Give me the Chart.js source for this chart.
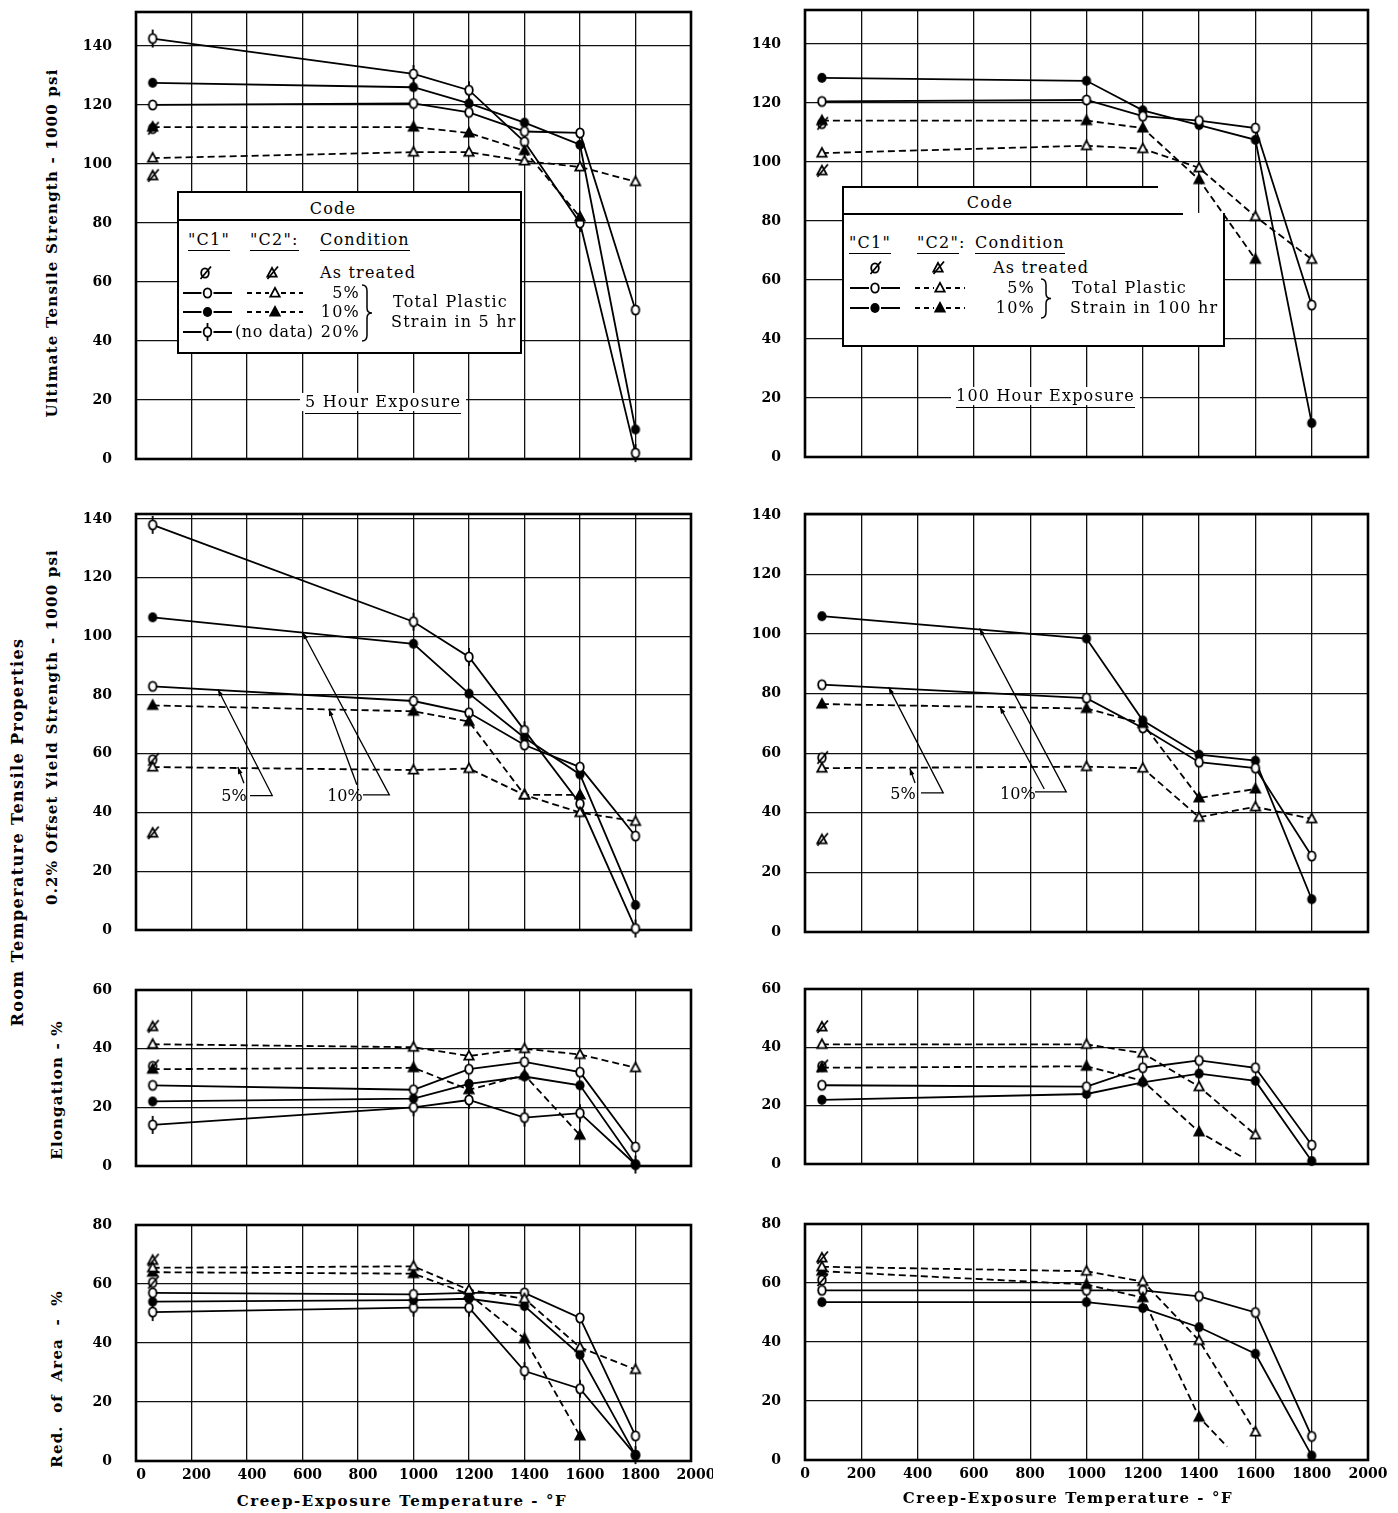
<!DOCTYPE html>
<html>
<head>
<meta charset="utf-8">
<script src="https://cdn.jsdelivr.net/npm/chart.js@4.4.1/dist/chart.umd.min.js"></script>
<style>
  body { margin: 0; background: #fff; }
  #page { position: relative; width: 1398px; height: 1513px; overflow: hidden; background: #fff; }
  canvas.panel { position: absolute; }
  .t { position: absolute; font-family: 'DejaVu Serif', serif; color: #000; white-space: nowrap; }
  .rot { transform: translate(-50%, -50%) rotate(-90deg); font-weight: bold; font-size: 15px; letter-spacing: 1.2px; }
  .xt { transform: translate(-50%, -50%); font-weight: bold; font-size: 15px; letter-spacing: 1.6px; }
  .code { position: absolute; background: #fff; border: 2px solid #000; box-sizing: border-box; }
  .lt { font-size: 16px; letter-spacing: 1.2px; line-height: 18px; }
  .ul { border-bottom: 1.5px solid #000; padding-bottom: 1px; }
  .expo { font-size: 16px; letter-spacing: 1.2px; line-height: 18px; background: #fff; padding: 0 5px; }
  .expo span { border-bottom: 1.6px solid #000; padding-bottom: 2px; }
</style>
</head>
<body>
<div id="page"></div>
<script>
// temperatures (deg F) of the test points; first one is room temperature
const tempF = [60, 1000, 1200, 1400, 1600, 1800];

// Ultimate tensile strength, 5 hr exposure (1000 psi)
const uts5_c1_5  = [120, 120.5, 117.5, 111, 110.5, 50.5];
const uts5_c1_10 = [127.5, 126, 120.5, 114, 106.5, 10];
const uts5_c1_20 = [142.5, 130.5, 125, 107.5, 80, 2];
const uts5_c2_5  = [102, 104, 104, 101, 99, 94];
const uts5_c2_10 = [112.5, 112.5, 110.5, 104.5, 82, null];
const uts5_treated = [112, 96];          // C1, C2 as treated

// Ultimate tensile strength, 100 hr exposure
const uts100_c1_5  = [120.5, 121, 115.5, 114, 111.5, 51.5];
const uts100_c1_10 = [128.5, 127.5, 117.5, 112.5, 107.5, 11.5];
const uts100_c2_5  = [103, 105.5, 104.5, 98, 81.5, 67];
const uts100_c2_10 = [114, 114, 111.5, 94, 67, null];
const uts100_treated = [113, 97];

// 0.2% offset yield strength, 5 hr exposure
const ys5_c1_5  = [83, 78, 74, 63, 55.5, 32];
const ys5_c1_10 = [106.5, 97.5, 80.5, 65.5, 53, 8.5];
const ys5_c1_20 = [138, 105, 93, 68, 43, 0.5];
const ys5_c2_5  = [55.5, 54.5, 55, 46, 40, 37];
const ys5_c2_10 = [76.5, 74.5, 71, 46, 46, null];
const ys5_treated = [58, 33];

// 0.2% offset yield strength, 100 hr exposure
const ys100_c1_5  = [83, 78.5, 68.5, 57, 55, 25.5];
const ys100_c1_10 = [106, 98.5, 71, 59.5, 57.5, 11];
const ys100_c2_5  = [55, 55.5, 55, 38.5, 42, 38];
const ys100_c2_10 = [76.5, 75, 70, 45, 48, null];
const ys100_treated = [58.5, 31];

// Elongation %, 5 hr
const el5_c1_5  = [27.5, 26, 33, 35.5, 32, 6.5];
const el5_c1_10 = [22, 23, 28, 30.5, 27.5, 0.5];
const el5_c1_20 = [14, 20, 22.5, 16.5, 18, 0.5];
const el5_c2_5  = [41.5, 40.5, 37.5, 40, 38, 33.5];
const el5_c2_10 = [33, 33.5, 26, 31, 10.5, null];
const el5_treated = [34, 47.5];

// Elongation %, 100 hr (10% C2 curve runs out to ~1560 F without a point)
const el100_c1_5  = [27, 26.5, 33, 35.5, 33, 6.5];
const el100_c1_10 = [22, 24, 28, 31, 28.5, 1];
const el100_c2_5  = [41, 41, 38, 26.5, 10, null];
const el100_c2_10_t = [60, 1000, 1200, 1400, 1560];
const el100_c2_10 = [33, 33.5, 28.5, 11, 2];
const el100_treated = [33.5, 47];

// Reduction of area %, 5 hr
const ra5_c1_5  = [57, 56.5, 57, 57, 48.5, 8.5];
const ra5_c1_10 = [54, 54.5, 55, 52.5, 36, 2];
const ra5_c1_20 = [50.5, 52, 52, 30.5, 24.5, 2];
const ra5_c2_5  = [65.5, 66, 58, 55, 38.5, 31];
const ra5_c2_10 = [64, 63.5, 56.5, 41.5, 8.5, null];
const ra5_treated = [60.5, 68];

// Reduction of area %, 100 hr
const ra100_c1_5  = [57.5, 57.5, 57.5, 55.5, 50, 8];
const ra100_c1_10 = [53.5, 53.5, 51.5, 45, 36, 1.5];
const ra100_c2_5  = [65.5, 64, 60.5, 40.5, 9.5, null];
const ra100_c2_10_t = [60, 1000, 1200, 1400, 1500];
const ra100_c2_10 = [64, 59.5, 55, 14.5, 4.5];
const ra100_treated = [61, 68.5];

const xTicks = [0, 200, 400, 600, 800, 1000, 1200, 1400, 1600, 1800, 2000];

const FONT = "'DejaVu Serif', serif";
const YW = 70, PT = 12, PR = 22;
const page = document.getElementById('page');

//
// marker glyphs
//
function drawMarker(g, type, cx, cy) {
  g.save();
  g.lineWidth = 1.8;
  g.strokeStyle = '#000';
  const circ = (rx, ry) => { g.beginPath(); g.ellipse(cx, cy, rx, ry, 0, 0, Math.PI * 2); };
  const tri = () => {
    g.beginPath();
    g.moveTo(cx, cy - 5.2);
    g.lineTo(cx + 4.7, cy + 3.6);
    g.lineTo(cx - 4.7, cy + 3.6);
    g.closePath();
  };
  if (type === 'phi') {
    g.beginPath(); g.moveTo(cx, cy - 9); g.lineTo(cx, cy + 9); g.stroke();
  }
  if (type === 'oc' || type === 'phi' || type === 'ocs') {
    circ(3.8, 4.7); g.fillStyle = '#fff'; g.fill(); g.stroke();
  }
  if (type === 'fc') {
    circ(4.6, 5); g.fillStyle = '#000'; g.fill();
  }
  if (type === 'ot' || type === 'ots') {
    tri(); g.fillStyle = '#fff'; g.fill(); g.stroke();
  }
  if (type === 'ft') {
    tri(); g.fillStyle = '#000'; g.fill(); g.stroke();
  }
  if (type === 'ocs' || type === 'ots') {
    g.beginPath(); g.moveTo(cx - 4.5, cy + 6); g.lineTo(cx + 6, cy - 6.5); g.stroke();
  }
  g.restore();
}

function markerCanvas(type) {
  const c = document.createElement('canvas');
  c.width = 20; c.height = 22;
  drawMarker(c.getContext('2d'), type, 10, 11);
  return c;
}

const markers = {};
['oc', 'fc', 'phi', 'ot', 'ft', 'ocs', 'ots'].forEach(k => { markers[k] = markerCanvas(k); });

//
// plugins: frame round the plot area, leader notes
//
const framePlugin = {
  id: 'frame',
  beforeDatasetsDraw(chart) {
    const a = chart.chartArea, g = chart.ctx;
    g.save();
    g.lineWidth = 2.6;
    g.strokeStyle = '#000';
    g.strokeRect(a.left, a.top, a.right - a.left, a.bottom - a.top);
    g.restore();
  }
};

function arrowHead(g, p, q) {
  const ang = Math.atan2(q[1] - p[1], q[0] - p[0]);
  g.beginPath();
  g.moveTo(q[0], q[1]);
  g.lineTo(q[0] - 7 * Math.cos(ang) + 2.4 * Math.sin(ang), q[1] - 7 * Math.sin(ang) - 2.4 * Math.cos(ang));
  g.lineTo(q[0] - 7 * Math.cos(ang) - 2.4 * Math.sin(ang), q[1] - 7 * Math.sin(ang) + 2.4 * Math.cos(ang));
  g.closePath();
  g.fill();
}

function notesPlugin(notes) {
  return {
    id: 'notes',
    afterDatasetsDraw(chart) {
      if (!notes) return;
      const g = chart.ctx, xs = chart.scales.x, ys = chart.scales.y;
      const P = d => [xs.getPixelForValue(d[0]), ys.getPixelForValue(d[1])];
      notes.forEach(n => {
        g.save();
        g.strokeStyle = '#000';
        g.fillStyle = '#000';
        g.lineWidth = 1.3;
        [n.path, n.short].forEach(line => {
          const pts = line.map(P);
          g.beginPath();
          g.moveTo(pts[0][0], pts[0][1]);
          pts.slice(1).forEach(q => g.lineTo(q[0], q[1]));
          g.stroke();
          arrowHead(g, pts[pts.length - 2], pts[pts.length - 1]);
        });
        const l = P(n.at);
        g.font = '16px ' + FONT;
        g.textAlign = 'center';
        g.textBaseline = 'middle';
        g.fillText(n.label, l[0], l[1]);
        g.restore();
      });
    }
  };
}

//
// one chart per panel
//
function makeChart(p) {
  const plotW = p.right - p.left, plotH = p.bottom - p.top;
  const xh = p.xLabels ? 30 : 12;
  const cv = document.createElement('canvas');
  cv.className = 'panel';
  cv.width = YW + plotW + PR;
  cv.height = PT + plotH + xh;
  cv.style.left = (p.left - YW) + 'px';
  cv.style.top = (p.top - PT) + 'px';
  page.appendChild(cv);

  const datasets = p.series.map(s => {
    const t = s.t || tempF;
    const pts = [];
    s.v.forEach((v, i) => { if (v !== null) pts.push({ x: t[i], y: v }); });
    return {
      data: pts,
      showLine: s.line !== false,
      borderColor: '#000',
      borderWidth: 1.8,
      borderDash: s.dash ? [7, 4] : [],
      pointStyle: markers[s.m],
      pointRadius: ctx => (s.plain && s.plain.includes(ctx.dataIndex)) ? 0 : 5,
      tension: 0,
      fill: false,
      clip: false
    };
  });

  const tickFont = { family: FONT, weight: 'bold', size: 14 };
  new Chart(cv, {
    type: 'line',
    data: { datasets },
    options: {
      responsive: false,
      maintainAspectRatio: false,
      animation: false,
      events: [],
      layout: { padding: { top: PT, right: PR, left: 0, bottom: 0 }, autoPadding: false },
      plugins: { legend: { display: false }, tooltip: { enabled: false } },
      scales: {
        x: {
          type: 'linear', min: 0, max: 2000,
          afterBuildTicks: sc => { sc.ticks = xTicks.map(v => ({ value: v })); },
          ticks: {
            display: !!p.xLabels, autoSkip: false, maxRotation: 0, padding: 6,
            labelOffset: p.labelShift || 0,
            color: '#000', font: tickFont, callback: v => String(v)
          },
          grid: { color: '#111', lineWidth: 1.3, drawTicks: false },
          border: { display: false },
          afterFit: sc => { sc.height = xh; sc.paddingLeft = 0; sc.paddingRight = 0; }
        },
        y: {
          type: 'linear', min: 0, max: p.yMax,
          afterBuildTicks: sc => {
            const out = [];
            for (let v = 0; v <= p.yMax; v += 20) out.push({ value: v });
            sc.ticks = out;
          },
          ticks: { padding: 24, color: '#000', font: tickFont, callback: v => String(v) },
          grid: { color: '#111', lineWidth: 1.3, drawTicks: false },
          border: { display: false },
          afterFit: sc => { sc.width = YW; sc.paddingTop = 0; sc.paddingBottom = 0; }
        }
      }
    },
    plugins: [framePlugin, notesPlugin(p.notes)]
  });
}

function treated(vals) {
  return [
    { t: [tempF[0]], v: [vals[0]], m: 'ocs', line: false },
    { t: [tempF[0]], v: [vals[1]], m: 'ots', line: false }
  ];
}

const L = { left: 136, right: 691, labelShift: 5 }, R = { left: 805, right: 1368 };

const panels = [
  Object.assign({ top: 12, bottom: 459, yMax: 151.5, series: [
    { v: uts5_c2_5, m: 'ot', dash: true }, { v: uts5_c2_10, m: 'ft', dash: true },
    { v: uts5_c1_5, m: 'oc' }, { v: uts5_c1_10, m: 'fc' }, { v: uts5_c1_20, m: 'phi' }
  ].concat(treated(uts5_treated)) }, L),
  Object.assign({ top: 10, bottom: 457, yMax: 151.5, series: [
    { v: uts100_c2_5, m: 'ot', dash: true }, { v: uts100_c2_10, m: 'ft', dash: true },
    { v: uts100_c1_5, m: 'oc' }, { v: uts100_c1_10, m: 'fc' }
  ].concat(treated(uts100_treated)) }, R),
  Object.assign({ top: 514, bottom: 930, yMax: 141.7, series: [
    { v: ys5_c2_5, m: 'ot', dash: true }, { v: ys5_c2_10, m: 'ft', dash: true },
    { v: ys5_c1_5, m: 'oc' }, { v: ys5_c1_10, m: 'fc' }, { v: ys5_c1_20, m: 'phi' }
  ].concat(treated(ys5_treated)),
    notes: [
      { label: '5%', at: [353, 45.5], path: [[411, 45.8], [491, 45.8], [295, 82]], short: [[389, 50], [367, 55.5]] },
      { label: '10%', at: [753, 45.5], path: [[818, 46], [913, 46], [600, 101.4]], short: [[796, 49.5], [695, 75.3]] }
    ] }, L),
  Object.assign({ top: 514, bottom: 932, yMax: 140.3, series: [
    { v: ys100_c2_5, m: 'ot', dash: true }, { v: ys100_c2_10, m: 'ft', dash: true },
    { v: ys100_c1_5, m: 'oc' }, { v: ys100_c1_10, m: 'fc' }
  ].concat(treated(ys100_treated)),
    notes: [
      { label: '5%', at: [348, 46], path: [[412, 46.7], [491, 46.7], [297, 82.2]], short: [[391, 50], [372, 55]] },
      { label: '10%', at: [756, 46], path: [[817, 47], [928, 47], [620, 101.9]], short: [[850, 48], [692, 75.6]] }
    ] }, R),
  Object.assign({ top: 990, bottom: 1166, yMax: 60, series: [
    { v: el5_c2_5, m: 'ot', dash: true }, { v: el5_c2_10, m: 'ft', dash: true },
    { v: el5_c1_5, m: 'oc' }, { v: el5_c1_10, m: 'fc' }, { v: el5_c1_20, m: 'phi' }
  ].concat(treated(el5_treated)) }, L),
  Object.assign({ top: 989, bottom: 1164, yMax: 60, series: [
    { v: el100_c2_5, m: 'ot', dash: true }, { t: el100_c2_10_t, v: el100_c2_10, m: 'ft', dash: true, plain: [4] },
    { v: el100_c1_5, m: 'oc' }, { v: el100_c1_10, m: 'fc' }
  ].concat(treated(el100_treated)) }, R),
  Object.assign({ top: 1225, bottom: 1461, yMax: 80, xLabels: true, series: [
    { v: ra5_c2_5, m: 'ot', dash: true }, { v: ra5_c2_10, m: 'ft', dash: true },
    { v: ra5_c1_5, m: 'oc' }, { v: ra5_c1_10, m: 'fc' }, { v: ra5_c1_20, m: 'phi' }
  ].concat(treated(ra5_treated)) }, L),
  Object.assign({ top: 1224, bottom: 1460, yMax: 80, xLabels: true, series: [
    { v: ra100_c2_5, m: 'ot', dash: true }, { t: ra100_c2_10_t, v: ra100_c2_10, m: 'ft', dash: true, plain: [4] },
    { v: ra100_c1_5, m: 'oc' }, { v: ra100_c1_10, m: 'fc' }
  ].concat(treated(ra100_treated)) }, R)
];

panels.forEach(makeChart);

//
// text, legends
//
function abs(parent, cls, x, y, html) {
  const d = document.createElement('div');
  d.className = 't ' + cls;
  d.style.left = x + 'px';
  d.style.top = y + 'px';
  d.innerHTML = html;
  parent.appendChild(d);
  return d;
}

const big = abs(page, 'rot', 17, 832, 'Room Temperature Tensile Properties');
big.style.fontSize = '16px';
big.style.letterSpacing = '1.4px';
abs(page, 'rot', 52, 243, 'Ultimate Tensile Strength - 1000 psi');
abs(page, 'rot', 52, 727, '0.2% Offset Yield Strength - 1000 psi');
abs(page, 'rot', 57, 1090, 'Elongation - %');
abs(page, 'rot', 57, 1379, 'Red. of Area - %').style.wordSpacing = '6px';
abs(page, 'xt', 402, 1501, 'Creep-Exposure Temperature - °F');
abs(page, 'xt', 1068, 1498, 'Creep-Exposure Temperature - °F');

abs(page, 'expo', 300, 393, '<span>5 Hour Exposure</span>');
abs(page, 'expo', 951, 387, '<span>100 Hour Exposure</span>');

function box(x, y, w, h) {
  const d = document.createElement('div');
  d.className = 'code';
  Object.assign(d.style, { left: x + 'px', top: y + 'px', width: w + 'px', height: h + 'px' });
  page.appendChild(d);
  return d;
}
function txt(b, x, yc, s, align, ul) {
  const d = abs(b, 'lt', x - 2, yc - 11, ul ? '<span class="ul">' + s + '</span>' : s);
  if (align === 'c') d.style.transform = 'translateX(-50%)';
  if (align === 'r') d.style.transform = 'translateX(-100%)';
  return d;
}
function hline(b, x1, x2, y) {
  const d = document.createElement('div');
  Object.assign(d.style, { position: 'absolute', left: (x1 - 2) + 'px', top: (y - 3) + 'px', width: (x2 - x1) + 'px', height: '0', borderTop: '2px solid #000' });
  b.appendChild(d);
}
function mark(b, xc, yc, type) {
  const c = markerCanvas(type);
  Object.assign(c.style, { position: 'absolute', left: (xc - 12) + 'px', top: (yc - 13) + 'px' });
  b.appendChild(c);
}
function sample(b, x1, x2, yc, type, dashed) {
  const c = document.createElement('canvas');
  const w = x2 - x1;
  c.width = w; c.height = 22;
  const g = c.getContext('2d');
  g.strokeStyle = '#000';
  g.lineWidth = 1.9;
  if (dashed) g.setLineDash([5, 4]);
  g.beginPath();
  g.moveTo(0, 11); g.lineTo(w / 2 - 6, 11);
  g.moveTo(w / 2 + 6, 11); g.lineTo(w, 11);
  g.stroke();
  g.setLineDash([]);
  drawMarker(g, type, w / 2, 11);
  Object.assign(c.style, { position: 'absolute', left: (x1 - 2) + 'px', top: (yc - 13) + 'px' });
  b.appendChild(c);
}
function brace(b, xc, y1, y2) {
  const c = document.createElement('canvas');
  const h = y2 - y1;
  c.width = 16; c.height = h + 4;
  const g = c.getContext('2d');
  g.strokeStyle = '#000';
  g.lineWidth = 1.5;
  const m = 2 + h / 2;
  g.beginPath();
  g.moveTo(2, 2);
  g.quadraticCurveTo(7, 2, 7, 8);
  g.lineTo(7, m - 5);
  g.quadraticCurveTo(7, m, 12, m);
  g.quadraticCurveTo(7, m, 7, m + 5);
  g.lineTo(7, h - 4);
  g.quadraticCurveTo(7, h + 2, 2, h + 2);
  g.stroke();
  Object.assign(c.style, { position: 'absolute', left: (xc - 9) + 'px', top: (y1 - 4) + 'px' });
  b.appendChild(c);
}

// legend, 5 hr panel
const L1 = box(177, 191, 345, 163);
txt(L1, 156, 18, 'Code', 'c');
hline(L1, 0, 345, 29);
txt(L1, 11, 49, '"C1"', 'l', true);
txt(L1, 73, 49, '"C2":', 'l', true);
txt(L1, 143, 49, 'Condition', 'l', true);
mark(L1, 28, 82, 'ocs');
mark(L1, 95, 82, 'ots');
txt(L1, 143, 82, 'As treated');
sample(L1, 6, 55, 102, 'oc', false);
sample(L1, 70, 126, 102, 'ot', true);
txt(L1, 183, 102, '5%', 'r');
sample(L1, 6, 55, 121, 'fc', false);
sample(L1, 70, 126, 121, 'ft', true);
txt(L1, 183, 121, '10%', 'r');
sample(L1, 6, 55, 141, 'phi', false);
txt(L1, 58, 141, '(no data)').style.letterSpacing = '0.6px';
txt(L1, 183, 141, '20%', 'r');
brace(L1, 190, 94, 150);
txt(L1, 216, 111, 'Total Plastic');
txt(L1, 214, 131, 'Strain in 5 hr');

// legend, 100 hr panel (corner left open for the curves)
const L2 = box(842, 186, 383, 161);
L2.style.clipPath = 'polygon(0 0, 316px 0, 316px 27px, 100% 27px, 100% 100%, 0 100%)';
txt(L2, 148, 17, 'Code', 'c');
hline(L2, 0, 341, 28);
txt(L2, 7, 57, '"C1"', 'l', true);
txt(L2, 75, 57, '<span class="ul">"C2"</span>:', 'l', false);
txt(L2, 133, 57, 'Condition', 'l', true);
mark(L2, 33, 82, 'ocs');
mark(L2, 96, 82, 'ots');
txt(L2, 151, 82, 'As treated');
sample(L2, 8, 58, 102, 'oc', false);
sample(L2, 73, 123, 102, 'ot', true);
txt(L2, 193, 102, '5%', 'r');
sample(L2, 8, 58, 122, 'fc', false);
sample(L2, 73, 123, 122, 'ft', true);
txt(L2, 193, 122, '10%', 'r');
brace(L2, 204, 93, 132);
txt(L2, 230, 102, 'Total Plastic');
txt(L2, 228, 122, 'Strain in 100 hr');
</script>
</body>
</html>
